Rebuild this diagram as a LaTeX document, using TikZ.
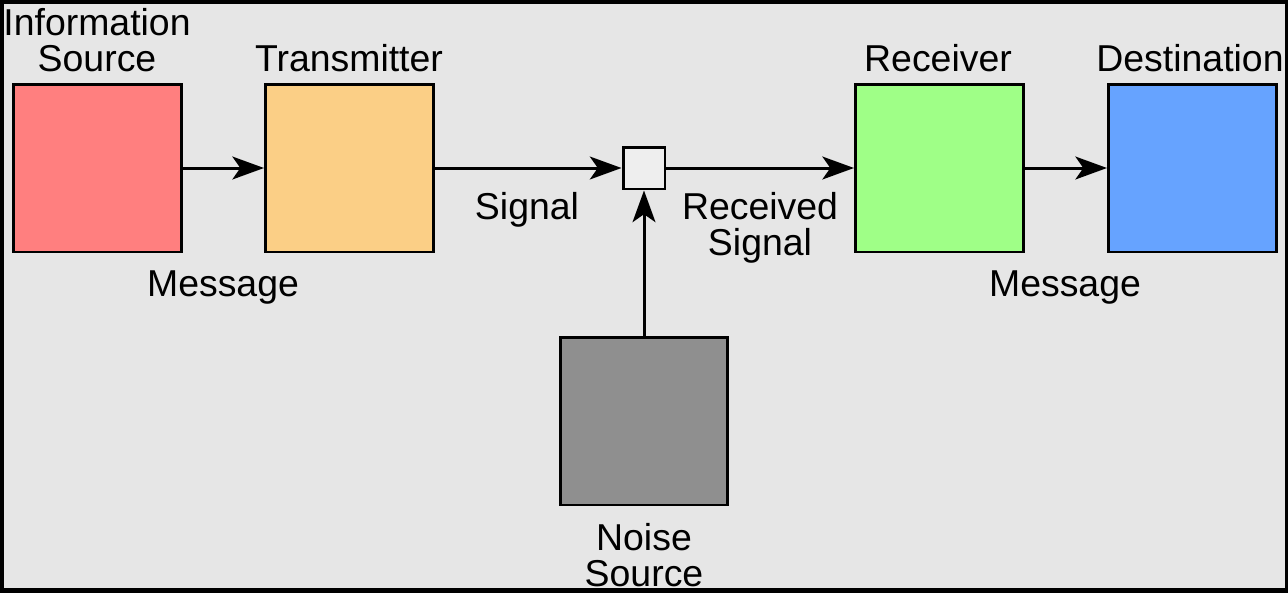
\documentclass[tikz,border=0pt]{standalone}
\usepackage{fontspec}
\setmainfont{Liberation Sans}
\usetikzlibrary{arrows.meta}
\definecolor{fond}{HTML}{E6E6E6}
\definecolor{rouge}{HTML}{FF7F7F}
\definecolor{orange}{HTML}{FBCF86}
\definecolor{vert}{HTML}{9FFF87}
\definecolor{bleu}{HTML}{66A3FF}
\definecolor{gris}{HTML}{8F8F8F}
\definecolor{clair}{HTML}{EEEEEE}
\begin{document}
\begin{tikzpicture}[x=0.02cm,y=-0.02cm]
% Styles
\tikzstyle{boite}=[draw=black,line width=1.7pt,minimum size=3.36cm,inner sep=0pt]
\tikzstyle{melange}=[draw=black,line width=1.7pt,minimum size=0.84cm,inner sep=0pt,fill=clair]
\tikzstyle{fleche}=[-{Stealth[length=18pt,width=13pt,inset=4.5pt]},line width=1.7pt]
\tikzstyle{texte}=[font=\fontsize{21.3}{20.4}\selectfont,align=center,inner sep=0pt,anchor=base]
% Dimensions
\def\HtB{168}
\def\HtN{421}
\def\Xm{644}
% Cadre
\useasboundingbox (0,0) rectangle (1288,593);
\fill[black] (0,0) rectangle (1288,593);
\fill[fond] (4,4) rectangle (1285,588);
% Boites
\node[boite,fill=rouge] (source) at (97.5,\HtB) {};
\node[boite,fill=orange] (emetteur) at (349.5,\HtB) {};
\node[melange] (canal) at (\Xm,\HtB) {};
\node[boite,fill=vert] (recepteur) at (939.5,\HtB) {};
\node[boite,fill=bleu] (destination) at (1192.5,\HtB) {};
\node[boite,fill=gris] (bruit) at (\Xm,\HtN) {};
% Textes
\node[texte] (tsource) at (97,71) {Information\\Source};
\node[texte] (temetteur) at (349,71) {Transmitter};
\node[texte] (trecepteur) at (938,71) {Receiver};
\node[texte] (tdestination) at (1190,71) {Destination};
\node[texte] (tmessage1) at (223,296) {Message};
\node[texte] (tsignal) at (527,219) {Signal};
\node[texte] (trecu) at (760,255) {Received\\Signal};
\node[texte] (tmessage2) at (1065,296) {Message};
\node[texte] (tbruit) at (\Xm,586) {Noise\\Source};
% Fleches
\draw[fleche] (source) -- (emetteur);
\draw[fleche] (emetteur) -- (canal);
\draw[fleche] (canal) -- (recepteur);
\draw[fleche] (recepteur) -- (destination);
\draw[fleche] (bruit) -- (canal);
\end{tikzpicture}
\end{document}
